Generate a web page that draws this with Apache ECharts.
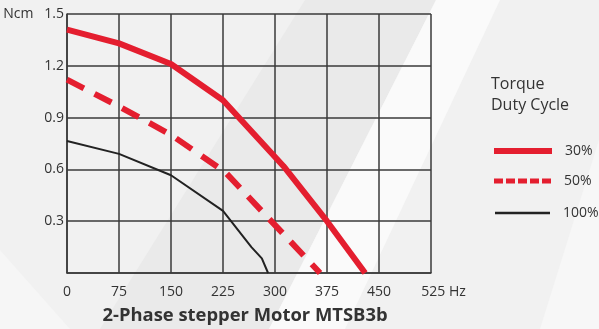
<!DOCTYPE html>
<html>
<head>
<meta charset="utf-8">
<script src="https://cdn.jsdelivr.net/npm/echarts@6/dist/echarts.min.js"></script>
<style>
  html, body { margin: 0; padding: 0; }
  #chart { width: 599px; height: 329px; }
</style>
</head>
<body>
<div id="chart"></div>
<script>
// Speed (Hz) against pull-out torque (Ncm) for three duty cycles
const freq30 = [0, 75, 150, 225, 312, 375, 430];
const torque30 = [1.41, 1.33, 1.21, 1.0, 0.62, 0.30, 0];

const freq50 = [0, 75, 150, 228, 365];
const torque50 = [1.12, 0.965, 0.80, 0.585, 0];

const freq100 = [0, 75, 150, 225, 266, 281, 290];
const torque100 = [0.765, 0.69, 0.566, 0.36, 0.15, 0.085, 0];

const seriesNames = ['30%', '50%', '100%'];
const xTicks = [0, 75, 150, 225, 300, 375, 450, 525];
const yTicks = [0.3, 0.6, 0.9, 1.2, 1.5];

const FONT = '"Open Sans", "Noto Sans", sans-serif';
const RED = '#e41e2f';
const DARK = '#222222';
const GRID = '#3a3a3a';

const pairs = (xs, ys) => xs.map((x, i) => [x, ys[i]]);

const chart = echarts.init(document.getElementById('chart'), null, { renderer: 'canvas' });

const legendBase = {
  orient: 'vertical',
  left: 494,
  padding: 0,
  itemGap: 0,
  selectedMode: false,
  itemStyle: { borderWidth: 0 },
  textStyle: { fontFamily: FONT, fontSize: 14, color: '#333', padding: [0, 0, 0, 8] }
};

chart.setOption({
  backgroundColor: '#f1f1f1',
  animation: false,
  graphic: [
    { type: 'polygon', z: -10, silent: true,
      shape: { points: [[100, 329], [305, 0], [436, 0], [269, 329]] },
      style: { fill: '#eaeaea' } },
    { type: 'polygon', z: -10, silent: true,
      shape: { points: [[269, 329], [436, 0], [500, 0], [345, 329]] },
      style: { fill: '#fafafa' } },
    { type: 'polygon', z: -10, silent: true,
      shape: { points: [[0, 250], [0, 329], [70, 329]] },
      style: { fill: '#f6f6f6' } },
    { type: 'polygon', z: -10, silent: true,
      shape: { points: [[540, 329], [599, 140], [599, 329]] },
      style: { fill: '#f7f7f7' } }
  ],
  title: [
    {
      text: '2-Phase stepper Motor MTSB3b',
      left: 245, top: 307, textAlign: 'center', padding: 0,
      textStyle: { fontFamily: FONT, fontSize: 18.4, fontWeight: 'bold', color: '#333' }
    },
    {
      text: 'Torque\nDuty Cycle',
      left: 491, top: 74, padding: 0,
      textStyle: { fontFamily: FONT, fontSize: 16, fontWeight: 'normal', color: '#333', lineHeight: 21 }
    }
  ],
  legend: [
    Object.assign({}, legendBase, {
      top: 144, itemWidth: 58, itemHeight: 6,
      data: [{ name: seriesNames[0], icon: 'rect' }]
    }),
    Object.assign({}, legendBase, {
      top: 174, itemWidth: 57, itemHeight: 5,
      data: [{ name: seriesNames[1],
        icon: 'path://M0,0h9v5h-9z M12,0h9v5h-9z M24,0h9v5h-9z M36,0h9v5h-9z M48,0h9v5h-9z' }]
    }),
    Object.assign({}, legendBase, {
      left: 495, top: 206, itemWidth: 55, itemHeight: 2.5,
      data: [{ name: seriesNames[2], icon: 'rect' }]
    })
  ],
  grid: { left: 67, top: 14, width: 364, height: 259, containLabel: false },
  xAxis: {
    type: 'value',
    min: xTicks[0], max: xTicks[xTicks.length - 1], interval: 75,
    axisLine: { show: true, lineStyle: { color: GRID, width: 1.5 } },
    axisTick: { show: false },
    splitLine: { show: true, lineStyle: { color: GRID, width: 1.5 } },
    axisLabel: {
      margin: 12,
      fontFamily: FONT, fontSize: 14, color: '#333',
      formatter: v => v === 525 ? '{a|525}{b| Hz}' : String(v),
      rich: {
        a: { fontFamily: FONT, fontSize: 14, color: '#333', padding: [0, 0, 0, 25] },
        b: { fontFamily: FONT, fontSize: 14, color: '#333' }
      }
    }
  },
  yAxis: {
    type: 'value',
    min: 0, max: yTicks[yTicks.length - 1], interval: 0.3,
    axisLine: { show: true, lineStyle: { color: GRID, width: 1.5 } },
    axisTick: { show: false },
    splitLine: { show: true, lineStyle: { color: GRID, width: 1.5 } },
    axisLabel: {
      margin: 3,
      fontFamily: FONT, fontSize: 14, color: '#333',
      formatter: v => {
        if (v === 0) return '';
        const s = v.toFixed(1);
        return Math.abs(v - 1.5) < 1e-6 ? 'Ncm   ' + s : s;
      }
    }
  },
  series: [
    {
      name: seriesNames[0], type: 'line', data: pairs(freq30, torque30),
      showSymbol: false, smooth: false,
      itemStyle: { color: RED },
      lineStyle: { color: RED, width: 6, join: 'round', cap: 'butt' }
    },
    {
      name: seriesNames[1], type: 'line', data: pairs(freq50, torque50),
      showSymbol: false, smooth: false,
      itemStyle: { color: RED },
      lineStyle: { color: RED, width: 6, type: [19, 12], join: 'round', cap: 'butt' }
    },
    {
      name: seriesNames[2], type: 'line', data: pairs(freq100, torque100),
      showSymbol: false, smooth: false,
      itemStyle: { color: DARK },
      lineStyle: { color: DARK, width: 2, join: 'round' }
    }
  ]
});
</script>
</body>
</html>
